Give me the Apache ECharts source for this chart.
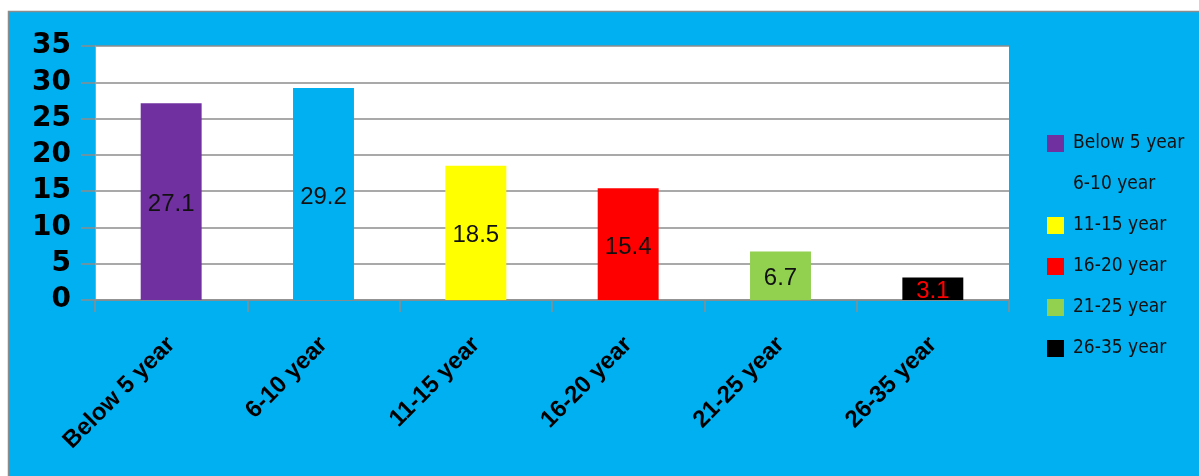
<!DOCTYPE html>
<html>
<head>
<meta charset="utf-8">
<script src="https://cdn.jsdelivr.net/npm/echarts@6/dist/echarts.min.js"></script>
<style>
html,body{margin:0;padding:0;background:#fff;}
#c{width:1199px;height:476px;}
</style>
</head>
<body>
<div id="c"></div>
<script>
var categories = ['Below 5 year', '6-10 year', '11-15 year', '16-20 year', '21-25 year', '26-35 year'];
var values = [27.1, 29.2, 18.5, 15.4, 6.7, 3.1];
var barColors = ['#7030A0', '#00B0F0', '#FFFF00', '#FF0000', '#92D050', '#000000'];
var labelColors = ['#111', '#111', '#111', '#111', '#111', '#FF0000'];
var yTicks = {min: 0, max: 35, interval: 5};

var chart = echarts.init(document.getElementById('c'), null, {renderer: 'canvas'});

var series = categories.map(function (name, i) {
  var data = categories.map(function (c, j) { return j === i ? values[i] : '-'; });
  return {
    name: name,
    type: 'bar',
    stack: 'all',
    barWidth: '40%',
    data: data,
    itemStyle: {color: barColors[i]},
    label: {
      show: true,
      position: 'inside',
      offset: [0, 3],
      color: labelColors[i],
      fontFamily: 'Liberation Sans, Arial, sans-serif',
      fontSize: 24
    }
  };
});

chart.setOption({
  backgroundColor: '#ffffff',
  animation: false,
  graphic: [{
    type: 'rect',
    z: -10,
    shape: {x: 8.5, y: 11.5, width: 1200, height: 480},
    style: {fill: '#00B0F0', stroke: '#8c8c8c', lineWidth: 1.5}
  }],
  grid: {
    left: 95, top: 46, right: 190, bottom: 176,
    show: true, backgroundColor: '#ffffff', borderWidth: 0
  },
  legend: {
    orient: 'vertical',
    left: 1042,
    top: 129,
    itemWidth: 17,
    itemHeight: 17,
    itemGap: 22,
    icon: 'rect',
    textStyle: {
      fontFamily: '"Liberation Sans Narrow", "DejaVu Sans Condensed", "Liberation Sans", sans-serif',
      fontSize: 19,
      color: '#111',
      padding: [0, 0, 0, 4]
    },
    data: categories
  },
  xAxis: {
    type: 'category',
    data: categories,
    boundaryGap: true,
    axisLine: {show: true, lineStyle: {color: '#8c8c8c', width: 1.5}},
    axisTick: {show: true, length: 12, alignWithLabel: false, lineStyle: {color: '#8c8c8c', width: 1.5}},
    axisLabel: {
      rotate: 45,
      margin: 41,
      interval: 0,
      color: '#000',
      fontFamily: 'Liberation Sans, Arial, sans-serif',
      fontWeight: 'bold',
      fontSize: 24
    }
  },
  yAxis: {
    type: 'value',
    min: yTicks.min, max: yTicks.max, interval: yTicks.interval,
    axisLine: {show: true, lineStyle: {color: '#a0a0a0', width: 1}},
    axisTick: {show: true, length: 14, lineStyle: {color: '#8c8c8c', width: 1.5}},
    splitLine: {show: true, lineStyle: {color: '#8c8c8c', width: 1.5}},
    axisLabel: {
      margin: 24,
      color: '#000',
      fontFamily: 'DejaVu Sans, Arial, sans-serif',
      fontWeight: 'bold',
      fontSize: 28
    }
  },
  series: series
});
</script>
</body>
</html>
